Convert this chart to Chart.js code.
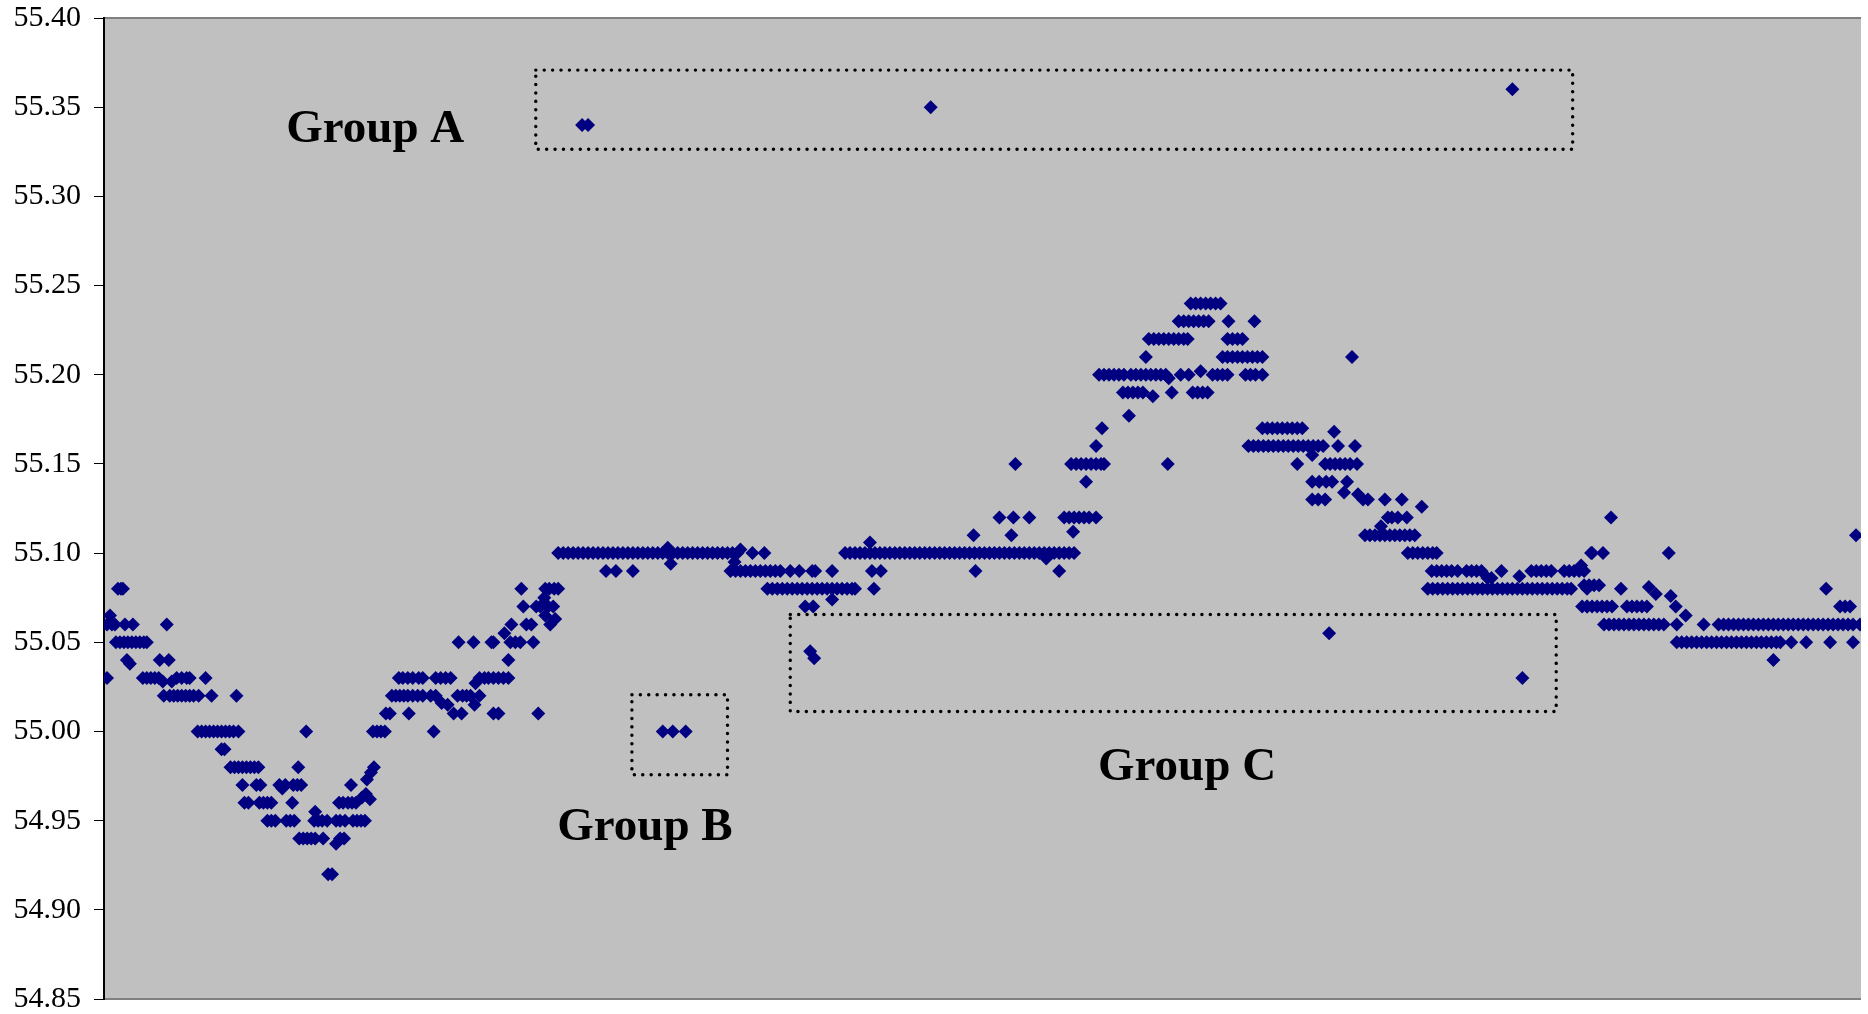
<!DOCTYPE html>
<html>
<head>
<meta charset="utf-8">
<script src="https://cdn.jsdelivr.net/npm/chart.js@4/dist/chart.umd.min.js"></script>
<style>
  html, body { margin: 0; padding: 0; background: #fff; }
  #wrap { width: 1868px; height: 1014px; }
</style>
</head>
<body>
<div id="wrap"><canvas id="chart" width="1868" height="1014"></canvas></div>
<script>
// y axis
const yMin = 54.85;
const yMax = 55.40;
const yStep = 0.05;

// observations: [sample, price]
const leftDip = [
  [3,55.03],[3,55.06],[6,55.065],[8,55.06],[11,55.06],
  [14,55.08],[17,55.08],[19,55.08],
  [12,55.05],[16,55.05],[20,55.05],[24,55.05],[28,55.05],[32,55.05],[36,55.05],[40,55.05],[43,55.05],
  [21,55.06],[29,55.06],[23,55.04],[26,55.038],
  [39,55.03],[43,55.03],[47,55.03],[51,55.03],[55,55.03],[59,55.028],
  [56,55.04],[65,55.04],[63,55.06],
  [60,55.02],[66,55.02],[70,55.02],[74,55.02],[78,55.02],[82,55.02],[86,55.02],[90,55.02],[95,55.02],
  [68,55.028],[73,55.03],[78,55.03],[83,55.03],[86,55.03],
  [102,55.03],[108,55.02],
  [94,55.00],[98,55.00],[102,55.00],[106,55.00],[110,55.00],[114,55.00],[118,55.00],[122,55.00],[126,55.00],[130,55.00],[135,55.00],
  [118,54.99],[121,54.99],[133,55.02],
  [127,54.98],[131,54.98],[135,54.98],[139,54.98],[143,54.98],[147,54.98],[151,54.98],[155,54.98],
  [139,54.97],[153,54.97],[157,54.97],
  [141,54.96],[145,54.96],[156,54.96],[160,54.96],[164,54.96],[168,54.96],
  [164,54.95],[168,54.95],[172,54.95],
  [176,54.97],[179,54.968],[182,54.97],
  [183,54.95],[187,54.95],[191,54.95],[189,54.96],
  [190,54.97],[194,54.97],[198,54.97],[195,54.98],[203,55.00],
  [196,54.94],[200,54.94],[204,54.94],[208,54.94],[212,54.94],[212,54.955],
  [211,54.95],[215,54.95],[219,54.95],[224,54.95],[220,54.94],
  [225,54.92],[229,54.92],
  [233,54.937],[237,54.94],[241,54.94],
  [233,54.95],[237,54.95],[242,54.95],
  [236,54.96],[240,54.96],[245,54.96],[249,54.96],[253,54.96],[248,54.97],
  [250,54.95],[254,54.95],[258,54.95],[262,54.95],
  [259,54.963],[263,54.965],[267,54.962],
  [264,54.973],[268,54.977],[271,54.98],
  [270,55.00],[274,55.00],[278,55.00],[282,55.00],
  [283,55.01],[287,55.01],
  [289,55.02],[293,55.02],[297,55.02],[301,55.02],[305,55.02],[310,55.02],[315,55.02],[320,55.02],[328,55.02],[333,55.02],
  [296,55.03],[300,55.03],[305,55.03],[310,55.03],[316,55.03],[320,55.03],
  [306,55.01],[331,55.00],
  [333,55.03],[338,55.03],[343,55.03],[348,55.03],
  [339,55.016],[345,55.015],[351,55.01],[359,55.01],
  [356,55.05],[371,55.05],[389,55.05],
  [355,55.02],[360,55.02],[364,55.02],[368,55.02],[372,55.015],[377,55.02],
  [373,55.027],[377,55.03],[382,55.03],[386,55.03],[391,55.03],[396,55.03],[401,55.03],[406,55.03],
  [391,55.01]
];

const plateau = [
  [391,55.05],[396,55.01],[402,55.055],[406,55.04],[408,55.05],[413,55.05],[418,55.05],[409,55.06],
  [419,55.08],[421,55.07],[424,55.06],[429,55.06],[431,55.05],[434,55.07],[438,55.07],[442,55.075],
  [446,55.07],[451,55.07],[443,55.08],[447,55.08],[452,55.08],[456,55.08],[443,55.065],[448,55.06],
  [453,55.063],[436,55.01],
  [456,55.10],[461,55.10],[466,55.10],[471,55.10],[476,55.10],[481,55.10],[486,55.10],[491,55.10],
  [496,55.10],[501,55.10],[506,55.10],[511,55.10],[516,55.10],[521,55.10],[526,55.10],[531,55.10],
  [536,55.10],[541,55.10],[546,55.10],[551,55.10],[556,55.10],[561,55.10],[566,55.10],[571,55.10],
  [576,55.10],[581,55.10],[586,55.10],[591,55.10],[596,55.10],[601,55.10],[606,55.10],[611,55.10],
  [616,55.10],[621,55.10],[626,55.10],[631,55.10],[636,55.10],
  [504,55.09],[514,55.09],[531,55.09],[566,55.103],[569,55.094],[639,55.102],[651,55.10],[663,55.10],[633,55.095],
  [629,55.09],[634,55.09],[639,55.09],[644,55.09],[649,55.09],[654,55.09],[659,55.09],[664,55.09],
  [669,55.09],[674,55.09],[679,55.09],[689,55.09],[698,55.09],[711,55.09],[714,55.09],[731,55.09],
  [666,55.08],[671,55.08],[676,55.08],[681,55.08],[686,55.08],[691,55.08],[696,55.08],[701,55.08],
  [706,55.08],[711,55.08],[716,55.08],[721,55.08],[726,55.08],[731,55.08],[736,55.08],[741,55.08],
  [746,55.08],[751,55.08],[754,55.08],
  [704,55.07],[712,55.07],[731,55.074]
];

const midRun = [
  [769,55.106],[771,55.09],[780,55.09],[773,55.08],
  [744,55.10],[749,55.10],[754,55.10],[759,55.10],[764,55.10],[769,55.10],[774,55.10],[779,55.10],
  [784,55.10],[789,55.10],[794,55.10],[799,55.10],[804,55.10],[809,55.10],[814,55.10],[819,55.10],
  [824,55.10],[829,55.10],[834,55.10],[839,55.10],[844,55.10],[849,55.10],[854,55.10],[859,55.10],
  [864,55.10],[869,55.10],[874,55.10],[879,55.10],[884,55.10],[889,55.10],[894,55.10],[899,55.10],
  [904,55.10],[909,55.10],[914,55.10],[919,55.10],[924,55.10],[929,55.10],[934,55.10],[939,55.10],
  [944,55.10],[949,55.10],[954,55.10],[959,55.10],[964,55.10],[969,55.10],[974,55.10],
  [873,55.11],[875,55.09],[899,55.12],[913,55.12],[929,55.12],[911,55.11],[946,55.097],[959,55.09],
  [964,55.12],[969,55.12],[974,55.12],[979,55.12],[984,55.12],[989,55.12],[996,55.12],
  [973,55.112],[915,55.15]
];

const peak = [
  [971,55.15],[976,55.15],[981,55.15],[986,55.15],[991,55.15],[996,55.15],[1001,55.15],[1004,55.15],
  [986,55.14],[996,55.16],[1002,55.17],[1029,55.177],
  [1023,55.19],[1028,55.19],[1033,55.19],[1038,55.19],[1043,55.19],[1053,55.188],[1072,55.19],
  [1093,55.19],[1098,55.19],[1103,55.19],[1108,55.19],
  [999,55.20],[1004,55.20],[1009,55.20],[1014,55.20],[1019,55.20],[1024,55.20],[1031,55.20],[1036,55.20],
  [1041,55.20],[1046,55.20],[1051,55.20],[1056,55.20],[1061,55.20],[1066,55.20],[1069,55.198],[1081,55.20],
  [1089,55.20],[1101,55.202],[1113,55.20],[1118,55.20],[1123,55.20],[1128,55.20],
  [1146,55.20],[1151,55.20],[1156,55.20],[1163,55.20],
  [1046,55.21],[1123,55.21],[1128,55.21],[1133,55.21],[1138,55.21],[1143,55.21],[1148,55.21],
  [1153,55.21],[1158,55.21],[1163,55.21],
  [1049,55.22],[1054,55.22],[1059,55.22],[1064,55.22],[1069,55.22],[1074,55.22],[1079,55.22],
  [1084,55.22],[1088,55.22],[1128,55.22],[1133,55.22],[1138,55.22],[1143,55.22],
  [1079,55.23],[1084,55.23],[1089,55.23],[1094,55.23],[1099,55.23],[1104,55.23],[1109,55.23],
  [1129,55.23],[1155,55.23],
  [1091,55.24],[1096,55.24],[1101,55.24],[1106,55.24],[1111,55.24],[1116,55.24],[1121,55.24],
  [1068,55.15],[1253,55.21]
];

const decline = [
  [1163,55.17],[1168,55.17],[1173,55.17],[1178,55.17],[1183,55.17],[1188,55.17],[1193,55.17],
  [1198,55.17],[1203,55.17],[1235,55.168],
  [1149,55.16],[1154,55.16],[1159,55.16],[1164,55.16],[1169,55.16],[1174,55.16],[1179,55.16],
  [1184,55.16],[1189,55.16],[1194,55.16],[1199,55.16],[1204,55.16],[1209,55.16],[1214,55.16],
  [1219,55.16],[1224,55.16],[1239,55.16],[1256,55.16],
  [1198,55.15],[1213,55.155],[1226,55.15],[1231,55.15],[1236,55.15],[1241,55.15],[1246,55.15],
  [1251,55.15],[1258,55.15],
  [1213,55.14],[1220,55.14],[1227,55.14],[1233,55.14],[1248,55.14],
  [1213,55.13],[1219,55.13],[1226,55.13],[1245,55.134],[1259,55.133],[1264,55.13],[1269,55.13],
  [1286,55.13],[1303,55.13],
  [1323,55.126],[1289,55.12],[1293,55.12],[1299,55.12],[1308,55.12],[1282,55.115],
  [1266,55.11],[1271,55.11],[1276,55.11],[1281,55.11],[1286,55.11],[1291,55.11],[1296,55.11],
  [1301,55.11],[1306,55.11],[1311,55.11],[1316,55.11],
  [1309,55.10],[1314,55.10],[1319,55.10],[1324,55.10],[1329,55.10],[1334,55.10],[1338,55.10],
  [1333,55.09],[1338,55.09],[1343,55.09],[1348,55.09],[1353,55.09],[1359,55.09],[1368,55.09],
  [1373,55.09],[1378,55.09],[1383,55.09],[1389,55.086],[1393,55.086],[1403,55.09],[1421,55.087],
  [1433,55.09],[1438,55.09],[1443,55.09],[1448,55.09],[1453,55.09],
  [1466,55.09],[1471,55.09],[1476,55.09],[1481,55.09],[1486,55.09],[1483,55.093],
  [1329,55.08],[1334,55.08],[1339,55.08],[1344,55.08],[1349,55.08],[1354,55.08],[1359,55.08],
  [1364,55.08],[1369,55.08],[1374,55.08],[1379,55.08],[1384,55.08],[1389,55.08],[1394,55.08],
  [1399,55.08],[1404,55.08],[1409,55.08],[1414,55.08],[1419,55.08],[1424,55.08],[1429,55.08],
  [1434,55.08],[1439,55.08],
  [1444,55.08],[1449,55.08],[1454,55.08],[1459,55.08],[1464,55.08],[1469,55.08],[1473,55.08],
  [1489,55.08],[1489,55.07],[1493,55.10]
];

const tail = [
  [1494,55.10],[1505,55.10],[1486,55.082],[1491,55.082],[1496,55.082],[1501,55.082],[1513,55.12],
  [1484,55.07],[1489,55.07],[1494,55.07],[1499,55.07],[1504,55.07],[1509,55.07],[1514,55.07],
  [1529,55.07],[1534,55.07],[1539,55.07],[1544,55.07],[1549,55.07],
  [1506,55.06],[1511,55.06],[1516,55.06],[1521,55.06],[1526,55.06],[1531,55.06],[1536,55.06],
  [1541,55.06],[1546,55.06],[1551,55.06],[1556,55.06],[1561,55.06],[1566,55.06],
  [1579,55.06],[1588,55.065],[1606,55.06],
  [1523,55.08],[1551,55.081],[1558,55.077],[1571,55.10],[1573,55.076],[1578,55.07],
  [1579,55.05],[1584,55.05],[1589,55.05],[1594,55.05],[1599,55.05],[1604,55.05],[1609,55.05],
  [1614,55.05],[1619,55.05],[1624,55.05],[1629,55.05],[1634,55.05],[1639,55.05],[1644,55.05],
  [1649,55.05],[1654,55.05],[1659,55.05],[1664,55.05],[1669,55.05],[1674,55.05],[1679,55.05],
  [1683,55.05],[1694,55.05],[1709,55.05],[1733,55.05],[1756,55.05],
  [1621,55.06],[1626,55.06],[1631,55.06],[1636,55.06],[1641,55.06],[1646,55.06],[1651,55.06],
  [1656,55.06],[1661,55.06],[1666,55.06],[1671,55.06],[1676,55.06],[1681,55.06],[1686,55.06],
  [1691,55.06],[1696,55.06],[1701,55.06],[1706,55.06],[1711,55.06],[1716,55.06],[1721,55.06],
  [1726,55.06],[1731,55.06],[1736,55.06],[1741,55.06],[1746,55.06],[1751,55.06],[1756,55.06],
  [1763,55.06],
  [1676,55.04],[1729,55.08],[1743,55.07],[1748,55.07],[1753,55.07],[1759,55.11]
];

// points inside the marked groups
const groupAPoints = [[480,55.34],[486,55.34],[830,55.35],[1414,55.36]];
const groupBPoints = [[561,55.00],[571,55.00],[584,55.00]];
const groupCPoints = [[709,55.045],[713,55.041],[1230,55.055],[1424,55.03]];

// annotations: label text, label anchor [sample, price], box [x1, x2, yTop, yBottom]
const groupNames = ['Group A', 'Group B', 'Group C'];
const groupLabelAt = [[183, 55.3303], [455, 54.939], [998, 54.973]];
const groupBoxes = [
  [433.5, 1474.5, 55.3708, 55.3264],
  [530, 626, 55.0206, 54.9757],
  [689, 1458, 55.0656, 55.0112]
];

const allPoints = [].concat(leftDip, plateau, midRun, peak, decline, tail,
  groupAPoints, groupBPoints, groupCPoints).map(([x, y]) => ({ x, y }));

const plotBg = {
  id: 'plotBg',
  beforeDraw(chart) {
    const { ctx, chartArea: a } = chart;
    ctx.save();
    ctx.fillStyle = '#c0c0c0';
    ctx.fillRect(a.left, a.top, a.right - a.left, a.bottom - a.top);
    ctx.strokeStyle = '#808080';
    ctx.lineWidth = 2;
    ctx.beginPath();
    ctx.moveTo(a.left, a.top);
    ctx.lineTo(a.right, a.top);
    ctx.moveTo(a.left, a.bottom);
    ctx.lineTo(a.right, a.bottom);
    ctx.stroke();
    ctx.restore();
  }
};

const groupMarks = {
  id: 'groupMarks',
  afterDatasetsDraw(chart) {
    const { ctx, scales: { x, y } } = chart;
    ctx.save();
    ctx.strokeStyle = '#000';
    ctx.lineWidth = 3.4;
    ctx.lineCap = 'round';
    ctx.setLineDash([0.1, 8.3]);
    groupBoxes.forEach(([x1, x2, yt, yb]) => {
      const l = x.getPixelForValue(x1), r = x.getPixelForValue(x2);
      const t = y.getPixelForValue(yt), b = y.getPixelForValue(yb);
      ctx.beginPath();
      ctx.rect(l, t, r - l, b - t);
      ctx.stroke();
    });
    ctx.setLineDash([]);
    ctx.fillStyle = '#000';
    ctx.font = 'bold 47px "Liberation Serif", "Times New Roman", serif';
    ctx.textBaseline = 'alphabetic';
    ctx.textAlign = 'left';
    groupNames.forEach((name, i) => {
      const [gx, gy] = groupLabelAt[i];
      ctx.fillText(name, x.getPixelForValue(gx), y.getPixelForValue(gy));
    });
    ctx.restore();
  }
};

new Chart(document.getElementById('chart'), {
  type: 'scatter',
  data: {
    datasets: [{
      data: allPoints,
      pointStyle: 'rectRot',
      pointRadius: 7,
      backgroundColor: '#000080',
      borderColor: '#000080',
      borderWidth: 0
    }]
  },
  options: {
    responsive: false,
    animation: false,
    devicePixelRatio: 1,
    layout: { padding: { top: 18, bottom: 15, left: 0, right: 0 } },
    plugins: { legend: { display: false }, tooltip: { enabled: false } },
    scales: {
      x: { type: 'linear', min: 0, max: 1764, display: false },
      y: {
        min: yMin,
        max: yMax,
        afterFit: (scale) => {
          scale.width = 104;
          scale.paddingTop = 0;
          scale.paddingBottom = 0;
        },
        ticks: {
          stepSize: yStep,
          padding: 13,
          color: '#000',
          font: { family: '"Liberation Serif", "Times New Roman", serif', size: 30 },
          callback: (v) => Number(v).toFixed(2)
        },
        grid: { drawOnChartArea: false, tickLength: 10, color: '#000', lineWidth: 1 },
        border: { color: '#000', width: 2 }
      }
    }
  },
  plugins: [plotBg, groupMarks]
});
</script>
</body>
</html>
